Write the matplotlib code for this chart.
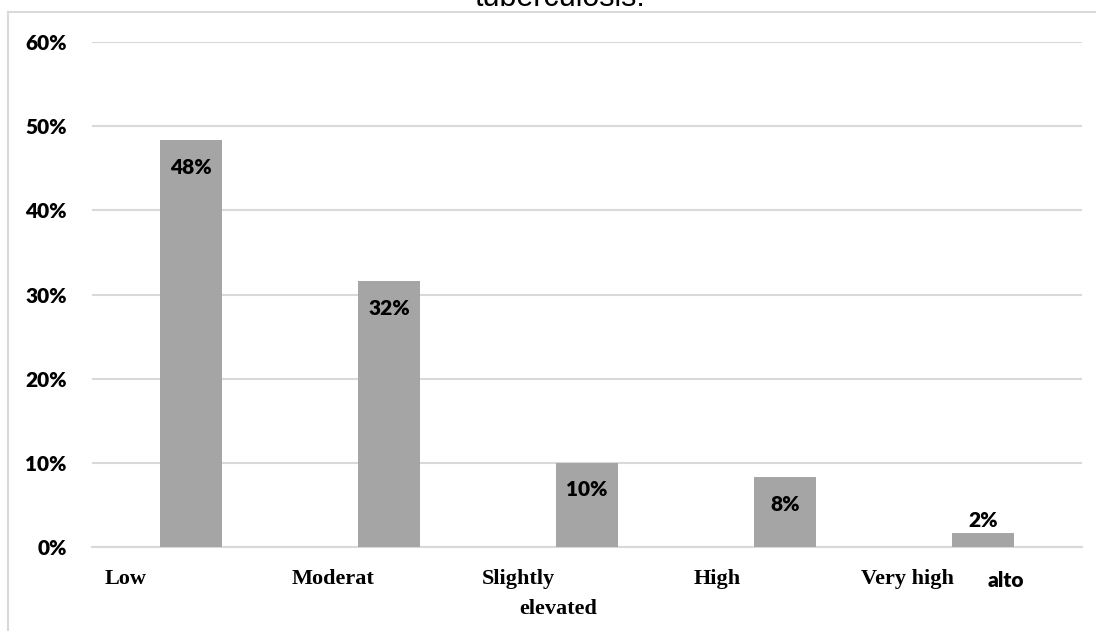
import matplotlib.pyplot as plt
from matplotlib.lines import Line2D

# Data
categories = ['Low', 'Moderat', 'Slightly elevated', 'High', 'Very high']
values = [0.483, 0.316, 0.100, 0.083, 0.017]
value_labels = ['48%', '32%', '10%', '8%', '2%']
y_ticks = [0, 0.1, 0.2, 0.3, 0.4, 0.5, 0.6]
y_tick_labels = ['0%', '10%', '20%', '30%', '40%', '50%', '60%']

# Category label lines as placed in the original (text, x in data units, y in axes units)
label_lines = [
    ('Low', -0.434, -0.073),
    ('Moderat', 0.510, -0.073),
    ('Slightly', 1.470, -0.073),
    ('elevated', 1.657, -0.133),
    ('High', 2.540, -0.073),
    ('Very high', 3.384, -0.073),
]

bar_color = '#a5a5a5'
grid_color = '#d9d9d9'
sans = ['Lato', 'DejaVu Sans']
serif = ['Liberation Serif', 'DejaVu Serif']

fig = plt.figure(figsize=(10.96, 6.31), dpi=100)
ax = fig.add_axes([0.0839, 0.1331, 0.9033, 0.8003])

x = range(len(categories))
ax.bar(x, values, width=0.31, color=bar_color, zorder=3)

ax.set_xlim(-0.5, len(categories) - 0.5)
ax.set_ylim(0, 0.6)
ax.set_yticks(y_ticks)
ax.set_yticklabels(y_tick_labels, fontfamily=sans, fontweight='heavy', fontsize=15)
ax.tick_params(axis='y', length=0, pad=18)
ax.set_xticks([])
ax.grid(axis='y', color=grid_color, linewidth=1.5, zorder=0)
for side in ['top', 'right', 'left']:
    ax.spines[side].set_visible(False)
ax.spines['bottom'].set_color(grid_color)
ax.spines['bottom'].set_linewidth(1.5)

# value labels
for i, (v, lab) in enumerate(zip(values, value_labels)):
    if v > 0.05:
        off = -19.5
    else:
        off = 8.5
    ax.annotate(lab, (i, v), xytext=(0, off), textcoords='offset points',
                ha='center', va='center', fontfamily=sans, fontweight='heavy',
                fontsize=15, color='black', zorder=4)

# category labels
tr = ax.get_xaxis_transform()
for text, lx, ly in label_lines:
    ax.text(lx, ly, text, transform=tr, ha='left', va='baseline',
            fontfamily=serif, fontweight='bold', fontsize=16, clip_on=False)
ax.text(4.025, -0.079, 'alto', transform=tr, ha='left', va='baseline',
        fontfamily=sans, fontweight='heavy', fontsize=15, clip_on=False)

# title (cut off at top of the screenshot)
fig.text(0.511, 1 - 6 / 631, 'tuberculosis.', ha='center', va='baseline',
         fontfamily=['Liberation Sans', 'DejaVu Sans'], fontsize=22)

# chart area border
fig.add_artist(Line2D([8 / 1096, 1], [1 - 12 / 631, 1 - 12 / 631],
                      color=grid_color, linewidth=1.5))
fig.add_artist(Line2D([8 / 1096, 8 / 1096], [0, 1 - 12 / 631],
                      color=grid_color, linewidth=1.5))

fig.savefig('out.png', dpi=100)
